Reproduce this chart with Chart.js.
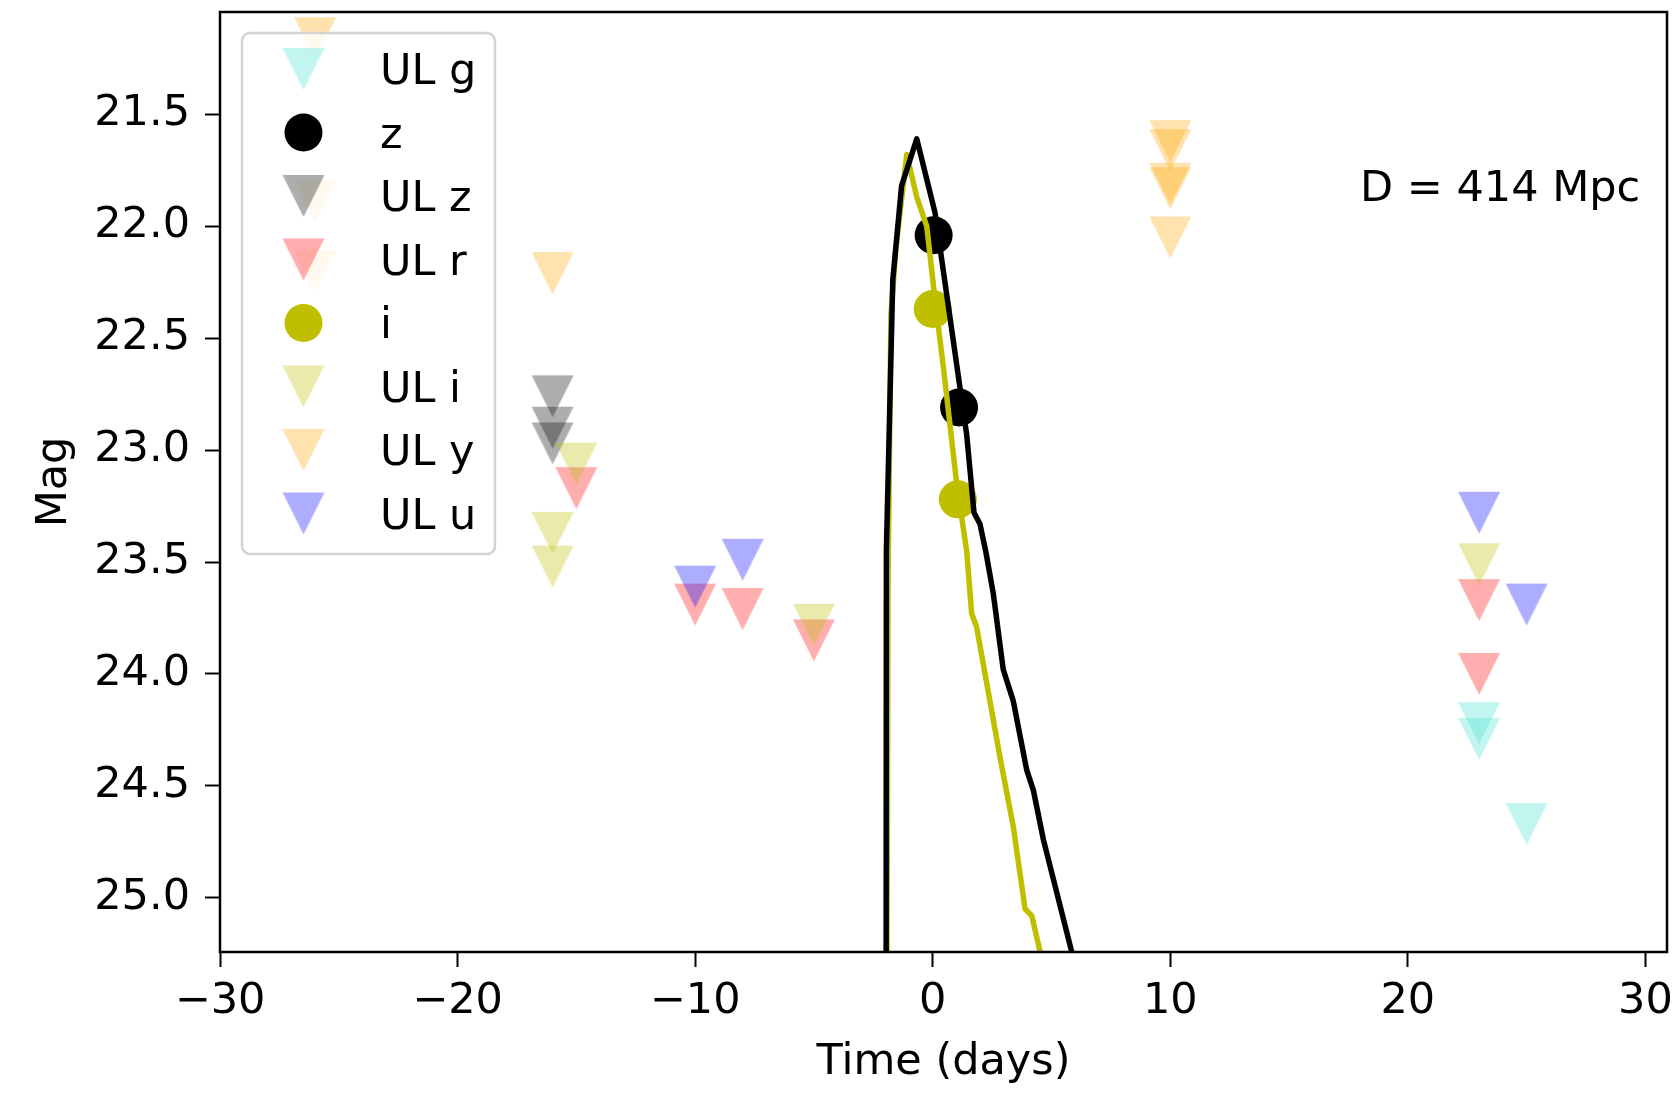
<!DOCTYPE html>
<html>
<head>
<meta charset="utf-8">
<script src="https://cdn.jsdelivr.net/npm/chart.js@4.4.1/dist/chart.umd.min.js"></script>
<style>
  html, body { margin: 0; padding: 0; background: #fff; }
  #wrap { width: 1674px; height: 1093px; }
</style>
</head>
<body>
<div id="wrap"><canvas id="lc" width="1674" height="1093"></canvas></div>
<script>
// epochs (days from peak) and magnitudes
const ulgTime = [23, 23, 25];
const ulgMag = [24.22, 24.29, 24.67];
const zTime = [0.04, 1.11];
const zMag = [22.04, 22.81];
const ulzTime = [-16, -16, -16];
const ulzMag = [22.76, 22.90, 22.97];
const ulrTime = [-15, -10, -8, -5, 23, 23];
const ulrMag = [23.17, 23.69, 23.71, 23.85, 23.67, 24.00];
const iTime = [0.0, 1.06];
const iMag = [22.37, 23.22];
const uliTime = [-15, -16, -16, -5, 23];
const uliMag = [23.06, 23.37, 23.52, 23.78, 23.51];
const ulyTime = [-26, -26, -26, -16, 10, 10, 10, 10, 10];
const ulyMag = [21.16, 21.89, 22.20, 22.21, 21.62, 21.66, 21.81, 21.83, 22.05];
const uluTime = [-10, -8, 23, 25];
const uluMag = [23.61, 23.49, 23.28, 23.69];

// model light curves
const zModelTime = [-1.97, -1.95, -1.68, -1.31, -0.67, 0.10, 1.12, 1.43, 1.74, 1.99, 2.23, 2.55, 2.97, 3.39, 3.96, 4.24, 4.66, 5.85, 5.92];
const zModelMag = [27.0, 23.45, 22.24, 21.82, 21.61, 21.94, 22.70, 22.93, 23.28, 23.33, 23.45, 23.64, 23.98, 24.12, 24.43, 24.52, 24.74, 25.24, 25.30];
const iModelTime = [-1.97, -1.88, -1.76, -1.55, -1.09, -0.67, -0.25, 0.10, 0.45, 1.01, 1.43, 1.64, 1.85, 2.83, 3.39, 3.89, 4.17, 4.52, 4.60];
const iModelMag = [27.0, 23.60, 22.40, 22.10, 21.68, 21.87, 22.00, 22.33, 22.63, 23.15, 23.45, 23.73, 23.79, 24.37, 24.68, 25.05, 25.08, 25.24, 25.30];

const xTicks = [-30, -20, -10, 0, 10, 20, 30];
const yTicks = [21.5, 22.0, 22.5, 23.0, 23.5, 24.0, 24.5, 25.0];
const legendLabels = ['UL g', 'z', 'UL z', 'UL r', 'i', 'UL i', 'UL y', 'UL u'];
const distanceLabel = 'D = 414 Mpc';

const FONT = 'DejaVu Sans';
const FSIZE = 43;
const ALPHA = 0.32;
const cols = {
  g: 'rgba(64,224,208,' + ALPHA + ')',
  z: '#000000',
  ulz: 'rgba(0,0,0,' + ALPHA + ')',
  r: 'rgba(255,0,0,' + ALPHA + ')',
  i: '#bfbf00',
  uli: 'rgba(191,191,0,' + ALPHA + ')',
  y: 'rgba(255,165,0,' + ALPHA + ')',
  u: 'rgba(0,0,255,' + ALPHA + ')'
};

const pts = (xs, ys) => xs.map((x, k) => ({ x: x, y: ys[k] }));

// matplotlib-like 'v' marker as an image
function downTriangle(color) {
  const c = document.createElement('canvas');
  c.width = 44; c.height = 44;
  const g = c.getContext('2d');
  g.fillStyle = color;
  g.beginPath();
  g.moveTo(1, 1); g.lineTo(43, 1); g.lineTo(22, 43);
  g.closePath();
  g.fill();
  return c;
}

const tri = {
  g: downTriangle(cols.g), ulz: downTriangle(cols.ulz), r: downTriangle(cols.r),
  uli: downTriangle(cols.uli), y: downTriangle(cols.y), u: downTriangle(cols.u)
};

function ulSet(label, xs, ys, img, order) {
  return { label: label, data: pts(xs, ys), pointStyle: img, pointRadius: 21, order: order, showLine: false };
}
function detSet(label, xs, ys, color, order) {
  return { label: label, data: pts(xs, ys), pointStyle: 'circle', pointRadius: 19,
    backgroundColor: color, borderWidth: 0, order: order, showLine: false };
}
function modelSet(xs, ys, color, order) {
  return { label: '', data: pts(xs, ys), showLine: true, borderColor: color, borderWidth: 5.5,
    borderJoinStyle: 'round', pointRadius: 0, order: order, fill: false, tension: 0 };
}

// legend entries: [kind, style]
const legendStyle = [
  ['tri', tri.g], ['dot', cols.z], ['tri', tri.ulz], ['tri', tri.r],
  ['dot', cols.i], ['tri', tri.uli], ['tri', tri.y], ['tri', tri.u]
];

const boxPlugin = {
  id: 'frame',
  afterDatasetsDraw(chart) {
    const { ctx, chartArea: a } = chart;
    ctx.save();
    ctx.strokeStyle = '#000';
    ctx.lineWidth = 2.5;
    ctx.strokeRect(a.left, a.top, a.right - a.left, a.bottom - a.top);
    ctx.restore();
  },
  afterDraw(chart) {
    const ctx = chart.ctx;
    ctx.save();
    // legend frame
    const bx = 242, by = 33, bw = 253, bh = 521, rad = 8;
    ctx.beginPath();
    ctx.roundRect(bx, by, bw, bh, rad);
    ctx.fillStyle = 'rgba(255,255,255,0.8)';
    ctx.fill();
    ctx.lineWidth = 2.5;
    ctx.strokeStyle = '#d3d3d3';
    ctx.stroke();

    ctx.font = FSIZE + 'px "' + FONT + '"';
    ctx.textAlign = 'left';
    ctx.textBaseline = 'alphabetic';
    legendLabels.forEach((lab, k) => {
      const y = 69 + k * 63.5;
      const st = legendStyle[k];
      if (st[0] === 'tri') {
        ctx.drawImage(st[1], 303.5 - 22, y - 22);
      } else {
        ctx.beginPath();
        ctx.arc(303.5, y, 19, 0, Math.PI * 2);
        ctx.fillStyle = st[1];
        ctx.fill();
      }
      ctx.fillStyle = '#000';
      ctx.fillText(lab, 380, y + 15);
    });

    ctx.fillText(distanceLabel, 1360, 201);
    ctx.restore();
  }
};

const tickFont = { family: FONT, size: FSIZE };

new Chart(document.getElementById('lc'), {
  type: 'scatter',
  data: {
    datasets: [
      modelSet(zModelTime, zModelMag, cols.z, 0),
      modelSet(iModelTime, iModelMag, cols.i, 1),
      detSet('i', iTime, iMag, cols.i, 2),
      detSet('z', zTime, zMag, cols.z, 3),
      ulSet('UL u', uluTime, uluMag, tri.u, 4),
      ulSet('UL y', ulyTime, ulyMag, tri.y, 5),
      ulSet('UL i', uliTime, uliMag, tri.uli, 6),
      ulSet('UL r', ulrTime, ulrMag, tri.r, 7),
      ulSet('UL z', ulzTime, ulzMag, tri.ulz, 8),
      ulSet('UL g', ulgTime, ulgMag, tri.g, 9)
    ]
  },
  options: {
    responsive: false,
    animation: false,
    devicePixelRatio: 1,
    layout: { autoPadding: false, padding: { left: 0, top: 12, right: 7, bottom: 0 } },
    plugins: { legend: { display: false }, tooltip: { enabled: false } },
    scales: {
      x: {
        type: 'linear',
        min: -30,
        max: 30.91,
        afterBuildTicks: s => { s.ticks = xTicks.map(v => ({ value: v })); },
        afterFit: s => { s.height = 141; s.paddingLeft = 0; s.paddingRight = 0; },
        ticks: {
          font: tickFont, color: '#000', padding: 9, maxRotation: 0, autoSkip: false,
          callback: v => (v < 0 ? '\u2212' + Math.abs(v) : String(v))
        },
        grid: { drawOnChartArea: false, drawTicks: true, tickLength: 15, tickWidth: 2, tickColor: '#000' },
        border: { display: false },
        title: { display: true, text: 'Time (days)', color: '#000',
          font: { family: FONT, size: FSIZE, lineHeight: 1.2 }, padding: { top: 0, bottom: 4 } }
      },
      y: {
        type: 'linear',
        reverse: true,
        min: 21.043,
        max: 25.242,
        afterBuildTicks: s => { s.ticks = yTicks.map(v => ({ value: v })); },
        afterFit: s => { s.width = 220; s.paddingTop = 0; s.paddingBottom = 0; },
        ticks: { font: tickFont, color: '#000', padding: 15, callback: v => v.toFixed(1) },
        grid: { drawOnChartArea: false, drawTicks: true, tickLength: 15, tickWidth: 2, tickColor: '#000' },
        border: { display: false },
        title: { display: true, text: 'Mag', color: '#000',
          font: { family: FONT, size: FSIZE, lineHeight: 1.2 }, padding: { top: 29, bottom: 0 } }
      }
    }
  },
  plugins: [boxPlugin]
});
</script>
</body>
</html>
